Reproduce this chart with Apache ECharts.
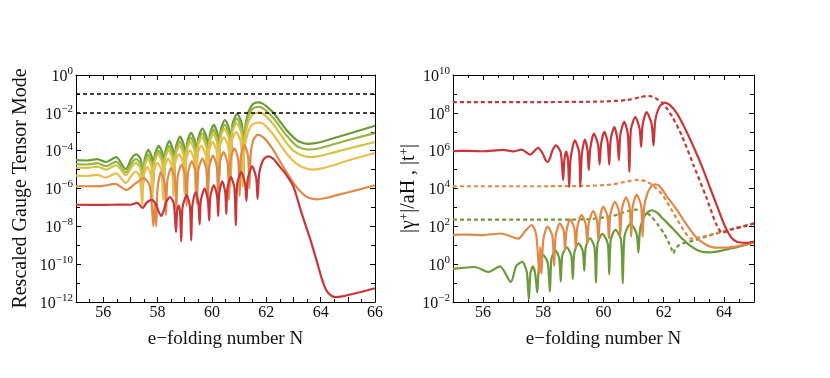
<!DOCTYPE html>
<html>
<head>
<meta charset="utf-8">
<script src="https://cdn.jsdelivr.net/npm/echarts@6/dist/echarts.min.js"></script>
<style>
html, body { margin: 0; background: #fff; }
#chart { width: 830px; height: 378px; }
</style>
</head>
<body>
<div id="chart"></div>
<script>
// values are [N, log10(value)]

// left panel: rescaled gauge tensor mode
var leftG1 = [[55,-4.50],[55.4,-4.52],[55.78,-4.45],[56.1,-4.6],[56.48,-4.34],[56.83,-4.98],[57.05,-4.4],[57.22,-4.2],[57.38,-4.45],[57.48,-5.6],
  [57.52,-4.5],[57.66,-3.96],[57.8,-4.4],[57.85,-5.6],[57.89,-4.3],[58.04,-3.75],[58.19,-4.2],[58.24,-5.6],
  [58.28,-4.1],[58.43,-3.5],[58.57,-4.0],[58.62,-5.6],[58.67,-3.85],[58.83,-3.26],[58.98,-3.8],[59.03,-5.6],
  [59.08,-3.65],[59.23,-3.06],[59.39,-3.6],[59.44,-5.6],[59.49,-3.4],[59.65,-2.84],[59.82,-3.4],[59.87,-5.5],
  [59.92,-3.2],[60.07,-2.64],[60.22,-3.2],[60.27,-5.5],[60.32,-2.95],[60.48,-2.38],[60.65,-2.95],[60.70,-5.4],
  [60.75,-2.65],[60.93,-2.06],[61.11,-2.65],[61.16,-5.4],[61.21,-3.0],[61.32,-2.05],[61.47,-1.6],[61.6,-1.47],
  [61.71,-1.45],[61.85,-1.5],[62.0,-1.65],[62.26,-2.0],[62.5,-2.45],[62.75,-2.92],[63.0,-3.3],[63.2,-3.52],
  [63.5,-3.64],[63.8,-3.6],[64.2,-3.46],[65.0,-3.12],[66.0,-2.68]];
var leftG2 = [[55,-4.71],[55.4,-4.73],[55.78,-4.66],[56.1,-4.82],[56.48,-4.58],[56.83,-5.15],[57.05,-4.65],[57.21,-4.45],[57.37,-4.7],[57.47,-5.8],
  [57.51,-4.75],[57.65,-4.21],[57.79,-4.65],[57.84,-5.8],[57.88,-4.55],[58.03,-4.0],[58.18,-4.45],[58.23,-5.8],
  [58.27,-4.35],[58.42,-3.75],[58.56,-4.25],[58.61,-5.8],[58.66,-4.1],[58.82,-3.51],[58.97,-4.05],[59.02,-5.8],
  [59.07,-3.9],[59.22,-3.31],[59.38,-3.85],[59.43,-5.8],[59.48,-3.65],[59.64,-3.09],[59.81,-3.65],[59.86,-5.7],
  [59.91,-3.45],[60.06,-2.89],[60.21,-3.45],[60.26,-5.7],[60.31,-3.2],[60.47,-2.63],[60.64,-3.2],[60.69,-5.6],
  [60.74,-2.9],[60.92,-2.31],[61.1,-2.9],[61.15,-5.6],[61.2,-3.25],[61.31,-2.3],[61.46,-1.85],[61.6,-1.71],
  [61.72,-1.69],[61.86,-1.74],[62.0,-1.9],[62.26,-2.27],[62.5,-2.73],[62.75,-3.2],[63.0,-3.6],[63.2,-3.82],
  [63.55,-3.94],[63.85,-3.9],[64.2,-3.78],[65.0,-3.45],[66.0,-3.07]];
var leftY1 = [[55,-4.89],[55.4,-4.91],[55.78,-4.84],[56.1,-5.0],[56.48,-4.77],[56.83,-5.3],[57.05,-4.85],[57.2,-4.65],[57.36,-4.9],[57.46,-6.1],
  [57.5,-4.95],[57.64,-4.41],[57.78,-4.85],[57.83,-6.1],[57.87,-4.75],[58.02,-4.2],[58.17,-4.65],[58.22,-6.1],
  [58.26,-4.55],[58.41,-3.97],[58.55,-4.45],[58.6,-6.1],[58.65,-4.3],[58.81,-3.73],[58.96,-4.25],[59.01,-6.0],
  [59.06,-4.1],[59.21,-3.53],[59.37,-4.05],[59.42,-6.0],[59.47,-3.85],[59.63,-3.29],[59.8,-3.85],[59.85,-5.95],
  [59.9,-3.65],[60.05,-3.09],[60.2,-3.65],[60.25,-5.95],[60.3,-3.4],[60.46,-2.85],[60.63,-3.4],[60.68,-5.9],
  [60.73,-3.12],[60.91,-2.55],[61.09,-3.12],[61.14,-5.9],[61.19,-3.6],[61.3,-2.65],[61.45,-2.16],[61.6,-2.01],
  [61.73,-1.99],[61.87,-2.04],[62.0,-2.2],[62.26,-2.6],[62.5,-3.1],[62.75,-3.6],[63.0,-4.0],[63.25,-4.22],
  [63.6,-4.34],[63.9,-4.3],[64.2,-4.2],[65.0,-3.9],[66.0,-3.54]];
var leftY2 = [[55,-5.32],[55.4,-5.34],[55.78,-5.28],[56.1,-5.42],[56.48,-5.2],[56.83,-5.72],[57.05,-5.3],[57.19,-5.1],[57.34,-5.35],[57.44,-6.9],
  [57.48,-5.4],[57.62,-4.86],[57.76,-5.3],[57.81,-6.8],[57.85,-5.2],[58.0,-4.65],[58.15,-5.1],[58.2,-6.6],
  [58.24,-5.0],[58.39,-4.42],[58.53,-4.9],[58.58,-6.4],[58.63,-4.75],[58.79,-4.18],[58.94,-4.7],[58.99,-6.3],
  [59.04,-4.55],[59.19,-3.98],[59.35,-4.5],[59.4,-6.2],[59.45,-4.3],[59.61,-3.74],[59.78,-4.3],[59.83,-6.1],
  [59.88,-4.1],[60.03,-3.54],[60.18,-4.1],[60.23,-6.0],[60.28,-3.85],[60.44,-3.3],[60.61,-3.85],[60.66,-5.9],
  [60.71,-3.6],[60.89,-3.02],[61.07,-3.6],[61.12,-5.9],[61.18,-4.1],[61.3,-3.15],[61.45,-2.68],[61.6,-2.54],
  [61.74,-2.52],[61.88,-2.58],[62.0,-2.72],[62.26,-3.15],[62.5,-3.65],[62.75,-4.15],[63.0,-4.55],[63.3,-4.85],
  [63.7,-5.0],[64.0,-4.95],[64.4,-4.8],[65.0,-4.52],[66.0,-4.12]];
var leftOrange = [[55,-5.87],[55.5,-5.88],[56.0,-5.86],[56.45,-5.76],[56.85,-6.08],[57.2,-5.72],[57.5,-5.45],[57.72,-5.9],[57.85,-8.0],[57.9,-6.7],
  [57.95,-8.0],[58.0,-6.0],[58.12,-5.15],[58.26,-5.7],[58.31,-7.4],[58.36,-5.6],[58.5,-4.92],[58.64,-5.5],[58.69,-7.1],
  [58.74,-5.4],[58.88,-4.75],[59.02,-5.35],[59.07,-6.9],[59.12,-5.2],[59.26,-4.57],[59.4,-5.15],[59.45,-6.8],
  [59.5,-5.05],[59.65,-4.42],[59.8,-5.0],[59.85,-6.7],[59.9,-4.9],[60.04,-4.26],[60.18,-4.85],[60.23,-6.6],
  [60.28,-4.7],[60.43,-4.08],[60.58,-4.7],[60.63,-6.6],[60.68,-4.5],[60.83,-3.88],[60.97,-4.5],[61.02,-6.4],
  [61.07,-4.3],[61.2,-3.7],[61.33,-4.3],[61.38,-6.0],[61.43,-4.1],[61.52,-3.45],[61.62,-3.22],[61.7,-3.17],
  [61.85,-3.25],[62.0,-3.45],[62.25,-3.95],[62.5,-4.55],[62.75,-5.15],[63.0,-5.7],[63.25,-6.15],[63.5,-6.45],
  [63.85,-6.57],[64.2,-6.5],[64.6,-6.35],[65.3,-6.1],[66.0,-5.83]];
var leftRed = [[55,-6.86],[56.0,-6.87],[56.6,-6.85],[57.0,-6.86],[57.25,-6.76],[57.45,-7.03],[57.6,-6.75],[57.78,-6.6],[57.95,-6.85],[58.05,-7.25],
  [58.14,-7.45],[58.22,-7.2],[58.32,-6.7],[58.46,-6.45],[58.6,-6.8],[58.68,-8.3],[58.72,-7.2],[58.78,-6.9],[58.83,-7.25],[58.87,-8.8],[58.92,-7.0],
  [59.07,-6.35],[59.19,-6.95],[59.24,-8.75],[59.28,-6.9],[59.4,-6.2],[59.5,-6.75],[59.55,-7.9],[59.59,-6.65],
  [59.73,-6.0],[59.85,-6.6],[59.9,-7.7],[59.94,-6.45],[60.07,-5.83],[60.19,-6.4],[60.23,-7.45],[60.27,-6.25],
  [60.38,-5.62],[60.49,-6.2],[60.53,-7.35],[60.57,-6.0],[60.7,-5.4],[60.83,-6.0],[60.88,-7.95],[60.93,-5.75],
  [61.08,-5.13],[61.22,-5.75],[61.27,-6.65],[61.32,-5.5],[61.48,-4.83],[61.63,-5.45],[61.68,-6.55],[61.74,-5.2],
  [61.85,-4.6],[61.95,-4.38],[62.08,-4.3],[62.25,-4.42],[62.5,-4.85],[62.75,-5.3],[63.0,-5.9],[63.3,-7.3],
  [63.6,-8.6],[63.85,-9.8],[64.05,-10.8],[64.2,-11.35],[64.35,-11.62],[64.55,-11.74],[64.8,-11.7],[65.4,-11.5],[66.0,-11.27]];
var refLevels = [-1, -2];

// right panel: |gamma+|/aH (solid) and |t+| (dashed)
var rightRed = [[55,5.98],[55.5,5.99],[56.0,5.97],[56.67,6.04],[57.0,5.96],[57.28,6.06],[57.56,5.79],[57.83,6.15],[57.98,5.85],[58.06,5.55],
  [58.14,5.4],[58.22,5.6],[58.3,6.0],[58.42,6.28],[58.58,5.9],[58.66,4.45],[58.7,5.5],[58.76,5.95],[58.82,5.5],[58.86,4.07],[58.91,5.6],
  [59.05,6.55],[59.19,5.9],[59.23,4.1],[59.28,5.8],[59.38,6.58],[59.47,6.0],[59.51,4.98],[59.56,6.1],[59.68,6.9],
  [59.82,6.3],[59.87,5.27],[59.92,6.35],[60.03,7.0],[60.14,6.4],[60.19,5.26],[60.24,6.6],[60.36,7.25],[60.46,6.6],
  [60.51,5.5],[60.56,6.85],[60.69,7.52],[60.81,6.85],[60.86,4.88],[60.91,7.1],[61.06,7.78],[61.2,7.15],[61.25,6.2],
  [61.3,7.35],[61.43,8.04],[61.6,7.4],[61.66,6.28],[61.72,7.6],[61.85,8.3],[62.02,8.54],[62.2,8.42],[62.45,7.95],
  [62.7,7.2],[62.95,6.35],[63.25,5.25],[63.55,4.0],[63.85,2.75],[64.05,1.95],[64.25,1.4],[64.45,1.17],[64.75,1.13],[65.0,1.2]];
var rightRedT = [[55,8.57],[58,8.57],[60,8.6],[60.8,8.68],[61.2,8.82],[61.5,8.9],[61.7,8.8],[61.97,8.5],[62.3,7.75],[62.6,6.8],
  [63.0,5.2],[63.4,3.6],[63.75,2.1],[63.95,1.66],[64.3,1.85],[64.7,2.01],[65.0,2.15]];
var rightOrange = [[55,1.55],[55.5,1.56],[56.0,1.54],[56.6,1.62],[57.17,1.35],[57.4,1.75],[57.61,2.07],[57.76,1.6],[57.87,-0.5],[57.9,0.9],
  [57.94,-0.5],[58.0,1.3],[58.14,1.98],[58.3,1.5],[58.36,-0.1],[58.41,1.5],[58.55,2.16],[58.68,1.75],[58.72,0.75],
  [58.77,1.75],[58.89,2.37],[59.03,1.9],[59.08,0.84],[59.13,1.95],[59.27,2.6],[59.41,2.1],[59.46,1.1],[59.51,2.15],
  [59.66,2.8],[59.78,2.35],[59.83,1.28],[59.88,2.4],[59.99,3.04],[60.13,2.55],[60.18,1.37],[60.23,2.65],[60.38,3.3],
  [60.51,2.8],[60.56,1.54],[60.61,2.9],[60.75,3.53],[60.87,3.0],[60.92,1.45],[60.97,3.05],[61.1,3.66],[61.25,3.1],
  [61.3,1.45],[61.35,3.0],[61.45,3.7],[61.58,4.1],[61.7,4.22],[61.85,4.15],[62.08,3.64],[62.41,2.94],[62.74,2.14],
  [63.07,1.44],[63.41,1.03],[63.74,0.87],[64.1,0.88],[64.5,0.97],[65.0,1.14]];
var rightOrangeT = [[55,4.12],[58,4.12],[59.5,4.14],[60.3,4.22],[60.8,4.38],[61.16,4.46],[61.4,4.38],[61.63,4.18],[61.97,3.64],[62.3,2.77],
  [62.63,1.88],[62.91,1.35],[63.2,1.42],[64.0,1.75],[65.0,2.15]];
var rightGreen = [[55,-0.25],[55.73,-0.15],[56.17,-0.41],[56.56,-0.12],[56.92,-0.94],[57.1,-0.1],[57.3,0.12],[57.45,-0.4],[57.52,-1.85],[57.57,-0.5],
  [57.65,-0.12],[57.73,-0.5],[57.8,-1.5],[57.86,-0.05],[58.0,0.48],[58.15,0.05],[58.22,-1.45],[58.27,0.25],[58.4,0.75],
  [58.53,0.3],[58.58,-0.92],[58.63,0.45],[58.78,0.89],[58.93,0.45],[58.98,-0.78],[59.03,0.6],[59.17,1.1],[59.31,0.7],
  [59.36,-0.34],[59.41,0.9],[59.55,1.37],[59.7,0.9],[59.75,-0.98],[59.8,1.05],[59.96,1.6],[60.14,1.1],[60.19,-0.53],
  [60.24,1.3],[60.4,1.81],[60.58,1.3],[60.64,-1.01],[60.7,1.5],[60.9,2.15],[61.1,1.6],[61.16,0.61],[61.22,1.9],
  [61.38,2.6],[61.6,2.85],[61.8,2.7],[61.97,2.41],[62.2,2.05],[62.41,1.7],[62.65,1.3],[62.9,0.95],[63.18,0.7],
  [63.5,0.62],[63.8,0.68],[64.2,0.82],[64.6,0.97],[65.0,1.14]];
var rightGreenT = [[55,2.35],[58,2.35],[59.5,2.38],[60.3,2.55],[60.8,2.8],[61.1,2.88],[61.35,2.8],[61.6,2.5],[61.8,2.1],[62.0,1.65],
  [62.15,1.2],[62.25,0.85],[62.32,0.56],[62.38,0.8],[62.5,1.0],[62.63,1.1],[63.0,1.25],[63.5,1.5],[64.2,1.83],[65.0,2.15]];

var evenTicks = [56, 58, 60, 62, 64, 66];

var green = '#6c9a3a', olive = '#98b443', yellowGreen = '#d2c443', yellow = '#eabd4f', orange = '#df8a4b', red = '#c9363a';
var serif = 'Liberation Serif';
var ink = '#111';

var myChart = echarts.init(document.getElementById('chart'));

function expLabel(v) {
  return '{b|10}{s|' + (v < 0 ? '\u2212' + (-v) : v) + '}';
}
var labelRich = {
  b: { fontFamily: serif, fontSize: 16, color: ink, lineHeight: 19, verticalAlign: 'bottom' },
  s: { fontFamily: serif, fontSize: 11, color: ink, lineHeight: 19, verticalAlign: 'top' }
};

function xAxis(grid, max, top, name) {
  return {
    type: 'value', gridIndex: grid, min: 55, max: max, interval: 1,
    position: top ? 'top' : 'bottom',
    name: top ? '' : name, nameLocation: 'middle', nameGap: 28,
    nameTextStyle: { fontFamily: serif, fontSize: 19, color: ink },
    axisLine: { show: true, onZero: false, lineStyle: { color: '#000', width: 1 } },
    axisTick: { show: true, inside: true, length: 5, lineStyle: { color: '#000' } },
    minorTick: { show: true, splitNumber: 2, length: 3, lineStyle: { color: '#000' } },
    axisLabel: {
      show: !top, margin: 3, fontFamily: serif, fontSize: 16, color: ink,
      formatter: function (v) { return evenTicks.indexOf(v) >= 0 ? String(v) : ''; }
    },
    splitLine: { show: false }
  };
}

function yAxis(grid, min, max, right, name, gap) {
  return {
    type: 'value', gridIndex: grid, min: min, max: max, interval: 2,
    position: right ? 'right' : 'left',
    name: right ? '' : name, nameLocation: 'middle', nameGap: gap, nameRotate: 90,
    nameTextStyle: {
      fontFamily: serif, fontSize: 20, color: ink,
      rich: { s: { fontFamily: serif, fontSize: 13, color: ink, verticalAlign: 'top', lineHeight: 20 } }
    },
    axisLine: { show: true, onZero: false, lineStyle: { color: '#000', width: 1 } },
    axisTick: { show: true, inside: true, length: 5, lineStyle: { color: '#000' } },
    minorTick: { show: true, splitNumber: 2, length: 4, lineStyle: { color: '#000' } },
    axisLabel: { show: !right, margin: 3, formatter: expLabel, rich: labelRich },
    splitLine: { show: false }
  };
}

function curve(data, color, xi, yi, dashed) {
  return {
    type: 'line', data: data, xAxisIndex: xi, yAxisIndex: yi,
    showSymbol: false, smooth: 0.25, silent: true,
    lineStyle: { color: color, width: 2.2, type: dashed ? [4, 3] : 'solid' }
  };
}

var leftSeries = [
  curve(leftG1, green, 0, 0),
  curve(leftG2, olive, 0, 0),
  curve(leftY1, yellowGreen, 0, 0),
  curve(leftY2, yellow, 0, 0),
  curve(leftOrange, orange, 0, 0),
  curve(leftRed, red, 0, 0)
];
leftSeries[0].markLine = {
  silent: true, symbol: 'none', label: { show: false },
  lineStyle: { color: '#000', type: [4, 3], width: 1.6 },
  data: refLevels.map(function (v) { return { yAxis: v }; })
};

var rightSeries = [
  curve(rightGreenT, green, 2, 2, true),
  curve(rightGreen, green, 2, 2),
  curve(rightOrangeT, orange, 2, 2, true),
  curve(rightOrange, orange, 2, 2),
  curve(rightRedT, red, 2, 2, true),
  curve(rightRed, red, 2, 2)
];

var option = {
  animation: false,
  backgroundColor: '#fff',
  grid: [
    { left: 76, top: 75, width: 299, height: 227 },
    { left: 453, top: 75, width: 301, height: 227 }
  ],
  xAxis: [
    xAxis(0, 66, false, 'e\u2212folding number N'),
    xAxis(0, 66, true),
    xAxis(1, 65, false, 'e\u2212folding number N'),
    xAxis(1, 65, true)
  ],
  yAxis: [
    yAxis(0, -12, 0, false, 'Rescaled Gauge Tensor Mode', 45),
    yAxis(0, -12, 0, true),
    yAxis(1, -2, 10, false, '|\u03b3{s|+}|/aH , |t{s|+}|', 34),
    yAxis(1, -2, 10, true)
  ],
  series: leftSeries.concat(rightSeries)
};
myChart.setOption(option);
</script>
</body>
</html>
